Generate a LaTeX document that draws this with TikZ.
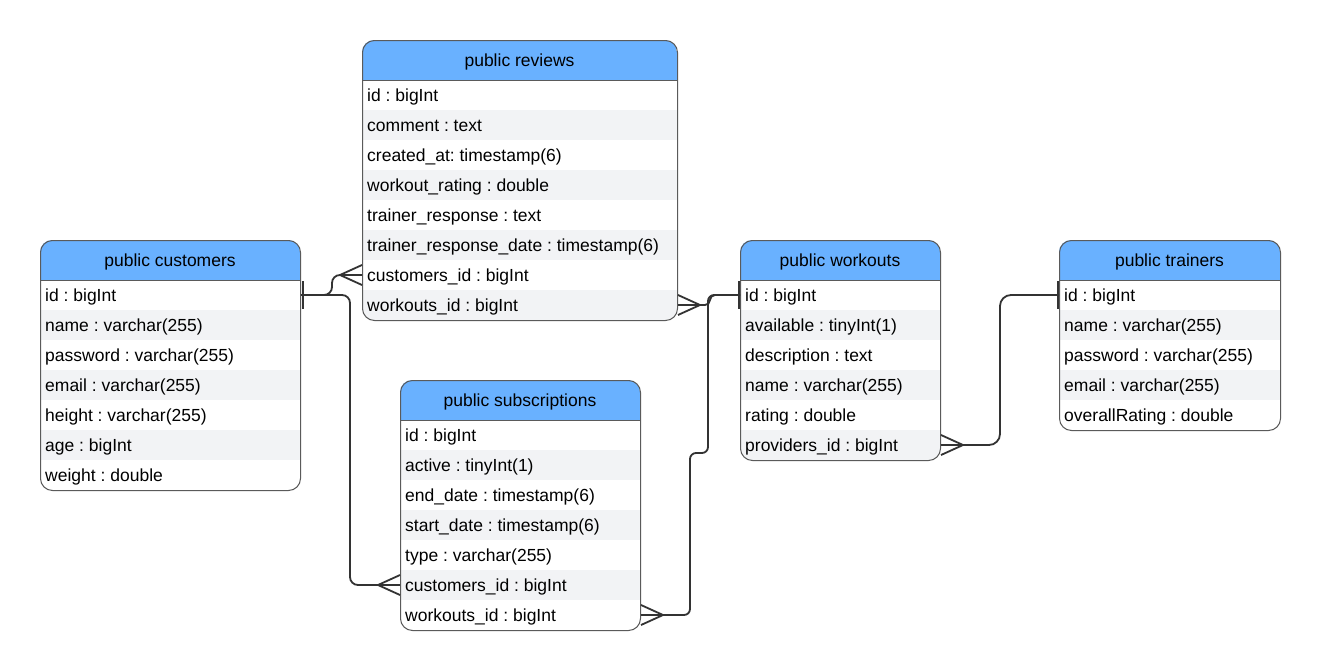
\documentclass[tikz,border=0pt]{standalone}
\usepackage{fontspec}
\setmainfont{Liberation Sans}
\usetikzlibrary{calc}
\frenchspacing
\definecolor{hdr}{HTML}{69B1FF}
\definecolor{rowgray}{HTML}{F2F3F5}
\definecolor{bordergray}{HTML}{5A5A5A}
\definecolor{connc}{HTML}{333333}
\tikzset{
  tablebox/.style={draw=bordergray, line width=1pt, rounded corners=12pt, inner sep=0pt},
  rowtext/.style={inner sep=0pt, text height=13pt, text depth=1pt, font=\fontsize{17.5}{20}\selectfont, anchor=west},
  hdrtext/.style={inner sep=0pt, text height=13pt, text depth=1pt, font=\fontsize{17.5}{20}\selectfont},
  conn/.style={draw=connc, line width=1.8pt, rounded corners=8pt},
  foot/.style={draw=connc, line width=1.8pt},
  onebar/.style={draw=connc, line width=2pt}
}
% #1 name, #2 x, #3 y, #4 width, #5 title, #6 number of rows, #7 rows
\newcommand\erdtab[7]{%
  \pgfmathsetmacro\erdh{40+30*#6}
  \begin{scope}
    \clip[rounded corners=12pt] (#2,#3) rectangle ++(#4,\erdh);
    \fill[white] (#2,#3) rectangle ++(#4,\erdh);
    \fill[hdr] (#2,#3) rectangle ++(#4,40);
    \foreach \r [count=\k] in {#7} {
      \ifodd\k\else\fill[rowgray] (#2,{#3+10+30*\k}) rectangle ++(#4,30);\fi
    }
  \end{scope}
  \draw[bordergray, line width=1pt] (#2,#3+40) -- ++(#4,0);
  \node[tablebox, minimum width=#4pt, minimum height=\erdh pt, anchor=north west] (#1) at (#2,#3) {};
  \node[hdrtext] (#1-title) at ({#2+#4/2},{#3+20.5}) {#5};
  \foreach \r [count=\k] in {#7} {
    \node[rowtext] (#1-\k) at ({#2+5},{#3+25+30*\k}) {\r};
  }
}
% crow's foot: #1 point on table edge, #2 direction (+1 = line comes from the left, -1 = from the right)
\newcommand\crowfoot[2]{%
  \draw[foot] ($(#1)+(-22*#2,0)$) -- ($(#1)+(0,-10)$)
              ($(#1)+(-22*#2,0)$) -- ($(#1)+(0,10)$);
}
\newcommand\onebarat[1]{%
  \draw[onebar] ($(#1)+(0,-14)$) -- ($(#1)+(0,14)$);
}
\begin{document}
\begin{tikzpicture}[x=1pt,y=-1pt]
\useasboundingbox[fill=white] (0,0) rectangle (1320,670);

\erdtab{rev}{362}{40}{315}{public reviews}{8}{id : bigInt,comment : text,created\_at: timestamp(6),workout\_rating : double,trainer\_response : text,trainer\_response\_date : timestamp(6),customers\_id : bigInt,workouts\_id : bigInt}
\erdtab{cust}{40}{240}{260}{public customers}{7}{id : bigInt,name : varchar(255),password : varchar(255),email : varchar(255),height : varchar(255),age : bigInt,weight : double}
\erdtab{sub}{400}{380}{240}{public subscriptions}{7}{id : bigInt,active : tinyInt(1),end\_date : timestamp(6),start\_date : timestamp(6),type : varchar(255),customers\_id : bigInt,workouts\_id : bigInt}
\erdtab{work}{740}{240}{200}{public workouts}{6}{id : bigInt,available : tinyInt(1),description : text,name : varchar(255),rating : double,providers\_id : bigInt}
\erdtab{train}{1059}{240}{221}{public trainers}{5}{id : bigInt,name : varchar(255),password : varchar(255),email : varchar(255),overallRating : double}

% end points on table edges
\coordinate (cId) at (cust.east |- cust-1);
\coordinate (rCust) at (rev.west |- rev-7);
\coordinate (rWork) at (rev.east |- rev-8);
\coordinate (sCust) at (sub.west |- sub-6);
\coordinate (sWork) at (sub.east |- sub-7);
\coordinate (wId) at (work.west |- work-1);
\coordinate (wProv) at (work.east |- work-6);
\coordinate (tId) at (train.west |- train-1);

% customers -> reviews
\draw[conn] (cId) -- (332,295) -- (332,275) -- (rCust);
% customers -> subscriptions
\draw[conn] (cId) -- (350,295) -- (350,585) -- (sCust);
% workouts -> reviews
\draw[conn, rounded corners=5pt] (wId) -- (710,295) -- (710,305) -- (rWork);
% workouts -> subscriptions
\draw[conn, rounded corners=6pt] (wId) -- (708,295) -- (708,453) -- (690,453) -- (690,615) -- (sWork);
% trainers -> workouts
\draw[conn, rounded corners=11pt] (tId) -- (1000,295) -- (1000,445) -- (wProv);

\crowfoot{rCust}{1}
\crowfoot{sCust}{1}
\crowfoot{rWork}{-1}
\crowfoot{sWork}{-1}
\crowfoot{wProv}{-1}
\onebarat{$(cId)+(2,0)$}
\onebarat{$(wId)+(-1,0)$}
\onebarat{$(tId)+(-1,0)$}
\end{tikzpicture}
\end{document}
